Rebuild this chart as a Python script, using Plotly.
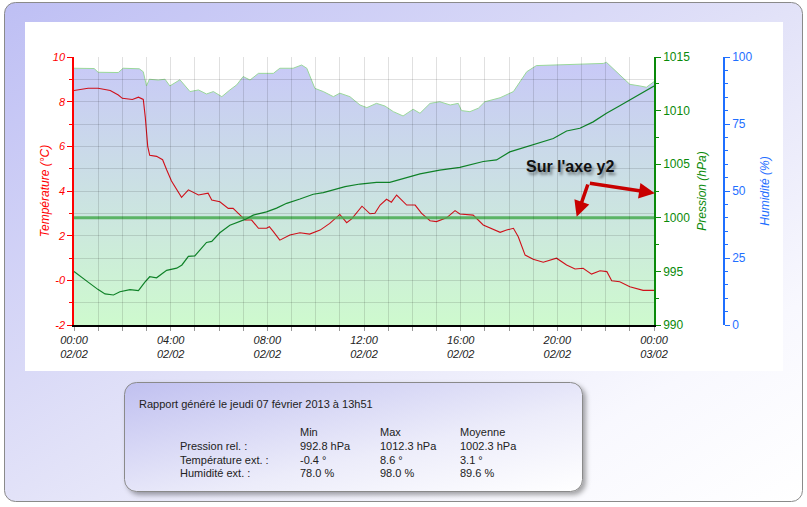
import base64
import pandas as pd
import plotly.graph_objects as go

# ---------------- data ----------------
DAY = "2013-02-02"

temp_time = ["00:00", "00:20", "00:35", "01:00", "01:20", "01:30", "01:50", "02:00", "02:25", "02:40",
             "02:52", "02:57", "03:03", "03:08", "03:25", "03:40", "03:50", "04:02", "04:27", "04:44",
             "05:09", "05:33", "05:42", "06:02", "06:23", "06:35", "06:48", "07:05", "07:21", "07:38",
             "07:58", "08:05", "08:15", "08:31", "08:56", "09:21", "09:45", "10:11", "10:35", "11:00",
             "11:17", "11:30", "11:55", "12:15", "12:27", "12:40", "12:56", "13:08", "13:21", "13:37",
             "13:46", "14:07", "14:23", "14:44", "15:00", "15:25", "15:46", "15:58", "16:31", "16:56",
             "17:38", "17:54", "18:11", "18:23", "18:40", "19:00", "19:25", "19:58", "20:23", "20:44",
             "21:04", "21:25", "21:46", "22:03", "22:15", "22:35", "23:00", "23:33", "24:00"]
temp_vals = [8.5, 8.55, 8.6, 8.6, 8.55, 8.5, 8.3, 8.15, 8.1, 8.2,
             8.1, 7.3, 6.0, 5.6, 5.55, 5.4, 4.95, 4.45, 3.72, 4.05,
             3.82, 3.9, 3.6, 3.52, 3.22, 3.22, 3.0, 2.7, 2.7, 2.33,
             2.33, 2.4, 2.18, 1.8, 2.03, 2.13, 2.07, 2.25, 2.55, 2.95,
             2.58, 2.76, 3.32, 2.98, 3.0, 3.37, 3.63, 3.5, 3.82, 3.52,
             3.37, 3.37, 3.0, 2.67, 2.63, 2.8, 3.12, 2.97, 2.92, 2.48,
             2.15, 2.25, 2.33, 1.95, 1.13, 0.94, 0.81, 0.99, 0.69, 0.51,
             0.54, 0.28, 0.43, 0.39, -0.02, -0.06, -0.29, -0.45, -0.45]

pres_time = ["00:00", "00:15", "00:35", "01:00", "01:17", "01:38", "01:54", "02:19", "02:40", "02:56",
             "03:08", "03:25", "03:50", "04:15", "04:28", "04:44", "05:00", "05:13", "05:29", "05:42",
             "06:02", "06:27", "06:44", "07:05", "07:25", "07:58", "08:23", "08:48", "09:21", "09:54",
             "10:19", "10:44", "11:13", "11:50", "12:31", "13:04", "13:29", "14:19", "15:08", "15:58",
             "16:56", "17:29", "18:02", "19:00", "19:50", "20:23", "20:56", "21:29", "22:02", "22:35",
             "23:08", "23:41", "24:00"]
pres_vals = [995.0, 994.6, 994.0, 993.3, 992.9, 992.8, 993.1, 993.3, 993.2, 994.0,
             994.5, 994.4, 995.1, 995.3, 995.6, 996.4, 996.45, 997.0, 997.7, 997.8,
             998.6, 999.3, 999.55, 999.85, 1000.25, 1000.55, 1000.9, 1001.35, 1001.75, 1002.2,
             1002.35, 1002.6, 1002.9, 1003.15, 1003.3, 1003.3, 1003.55, 1004.1, 1004.45, 1004.7,
             1005.25, 1005.4, 1006.15, 1006.85, 1007.4, 1008.1, 1008.35, 1008.95, 1009.75, 1010.45,
             1011.15, 1011.9, 1012.3]

hum_time = ["00:00", "00:50", "01:00", "01:50", "02:02", "02:42", "02:52", "03:00", "03:07", "03:29",
            "03:46", "03:58", "04:23", "04:48", "05:09", "05:29", "05:46", "06:07", "06:27", "06:44",
            "07:00", "07:17", "07:38", "08:15", "08:31", "09:04", "09:25", "09:38", "09:58", "10:19",
            "10:44", "11:00", "11:25", "11:50", "12:07", "12:31", "12:52", "13:13", "13:37", "14:02",
            "14:19", "14:44", "15:08", "15:34", "15:54", "16:02", "16:23", "16:44", "17:00", "17:38",
            "18:11", "18:27", "18:44", "19:08", "20:00", "21:54", "22:02", "22:35", "23:00", "23:25",
            "23:41", "24:00"]
hum_vals = [95.8, 95.7, 94.3, 94.2, 95.8, 95.6, 94.5, 89.2, 91.7, 91.4,
            91.7, 89.2, 91.5, 87.1, 87.7, 86.2, 87.1, 85.2, 87.7, 89.6,
            92.7, 91.4, 93.9, 93.9, 95.8, 95.8, 97.0, 95.8, 88.3, 87.1,
            85.2, 86.5, 85.2, 82.1, 81.1, 82.7, 81.7, 79.6, 78.0, 80.5,
            79.0, 82.7, 83.3, 82.1, 82.7, 80.0, 79.6, 80.9, 83.3, 84.8,
            87.1, 90.8, 94.5, 96.8, 97.0, 97.6, 98.0, 93.3, 89.8, 89.2,
            88.7, 90.8]

PRESSURE_REF = 1000

temp_ticks = [-2, 0, 2, 4, 6, 8, 10]
temp_ticktext = ["-2", "-0", "2", "4", "6", "8", "10"]

x_start, x_end = "00:00", "24:00"

report_title = "Rapport généré le jeudi 07 février 2013 à 13h51"
stat_headers = ["Min", "Max", "Moyenne"]
stat_labels = ["Pression rel. :", "Température ext. :", "Humidité ext. :"]
stat_units = ["hPa", "°", "%"]
stat_min = [992.8, -0.4, 78.0]
stat_max = [1012.3, 8.6, 98.0]
stat_mean = [1002.3, 3.1, 89.6]


def to_dt(hhmm):
    h, m = (int(v) for v in hhmm.split(":"))
    return pd.Timestamp(DAY) + pd.Timedelta(hours=h, minutes=m)


# ---------------- geometry ----------------
W, H = 807, 507
L, R, T, B = 74, 60, 57, 182
PW, PH = W - L - R, H - T - B
XD = 580 / PW
HUM_POS = (724 - L) / PW


def px(xp):
    return (xp - L) / PW


def py(yp):
    return 1 - (yp - T) / PH


FONT = "Arial, Liberation Sans, sans-serif"
RED = "#ff0000"
GREEN = "#0a8a0a"
BLUE = "#1f6fff"
GRID = "rgba(0,0,0,0.12)"

fig = go.Figure()

# humidity area (main y axis)
fig.add_trace(go.Scatter(
    x=[to_dt(t) for t in hum_time], y=hum_vals, mode="lines",
    line=dict(color="#9ad89a", width=1), fill="tozeroy",
    fillgradient=dict(type="vertical", start=0, stop=100,
                      colorscale=[[0, "rgb(206,250,206)"], [1, "rgb(200,200,248)"]]),
    xaxis="x", yaxis="y", hoverinfo="skip"))

# temperature (y2)
fig.add_trace(go.Scatter(
    x=[to_dt(t) for t in temp_time], y=temp_vals, mode="lines",
    line=dict(color="#d0101a", width=1.1), xaxis="x", yaxis="y2", hoverinfo="skip"))

# reference line on pressure axis (y3)
fig.add_trace(go.Scatter(
    x=[to_dt(x_start), to_dt(x_end)], y=[PRESSURE_REF, PRESSURE_REF], mode="lines",
    line=dict(color="rgba(70,170,80,0.85)", width=3), xaxis="x", yaxis="y3", hoverinfo="skip"))

# pressure (y3)
fig.add_trace(go.Scatter(
    x=[to_dt(t) for t in pres_time], y=pres_vals, mode="lines",
    line=dict(color="#0f8228", width=1.2), xaxis="x", yaxis="y3", hoverinfo="skip"))

# empty trace for the grid overlay subplot
fig.add_trace(go.Scatter(x=[], y=[], xaxis="x2", yaxis="y4", hoverinfo="skip"))

xr = [to_dt(x_start), to_dt(x_end)]

fig.update_layout(
    width=W, height=H,
    margin=dict(l=L, r=R, t=T, b=B),
    paper_bgcolor="white", plot_bgcolor="rgba(0,0,0,0)",
    showlegend=False, hovermode=False,
    font=dict(family=FONT, size=11, color="#222"),
    xaxis=dict(domain=[0, XD], type="date", range=xr, anchor="y",
               tick0=to_dt(x_start), dtick=4 * 3600000, tickformat="%H:%M<br>%d/%m",
               ticks="outside", ticklen=4, tickcolor="#999", showgrid=False, zeroline=False,
               showline=True, linecolor="#000", linewidth=1.5,
               tickfont=dict(family=FONT, size=11, color="#222", style="italic"),
               minor=dict(dtick=3600000, ticks="outside", ticklen=4, tickcolor="#999", showgrid=False)),
    yaxis=dict(range=[0, 100], anchor="free", position=HUM_POS, side="right",
               dtick=25, ticks="outside", ticklen=5, tickcolor=BLUE,
               showline=True, linecolor=BLUE, linewidth=1.5, showgrid=False, zeroline=False,
               tickfont=dict(family=FONT, size=12, color=BLUE),
               title=dict(text="Humidité (%)", font=dict(family=FONT, size=12, color=BLUE, style="italic"),
                          standoff=8),
               minor=dict(dtick=5, ticks="outside", ticklen=3, tickcolor=BLUE, showgrid=False)),
    yaxis2=dict(range=[-2, 10], overlaying="y", anchor="x", side="left",
                tickmode="array", tickvals=temp_ticks, ticktext=temp_ticktext,
                ticks="outside", ticklen=5, tickcolor=RED,
                showline=True, linecolor=RED, linewidth=1.5, showgrid=False, zeroline=False,
                tickfont=dict(family=FONT, size=11, color=RED, style="italic"),
                title=dict(text="Température (°C)", font=dict(family=FONT, size=12, color=RED, style="italic"),
                           standoff=1),
                minor=dict(tickmode="linear", tick0=-2, dtick=1, ticks="outside", ticklen=3,
                           tickcolor=RED, showgrid=False)),
    yaxis3=dict(range=[990, 1015], overlaying="y", anchor="x", side="right",
                dtick=5, ticks="outside", ticklen=5, tickcolor=GREEN,
                showline=True, linecolor=GREEN, linewidth=1.5, showgrid=False, zeroline=False,
                tickfont=dict(family=FONT, size=12, color=GREEN),
                title=dict(text="Pression (hPa)", font=dict(family=FONT, size=12, color=GREEN, style="italic"),
                           standoff=8),
                minor=dict(dtick=2.5, ticks="outside", ticklen=3, tickcolor=GREEN, showgrid=False)),
    xaxis2=dict(domain=[0, XD], type="date", range=xr, anchor="y4",
                tick0=to_dt(x_start), dtick=3600000, showgrid=True, gridcolor=GRID, gridwidth=1,
                showticklabels=False, ticks="", showline=False, zeroline=False),
    yaxis4=dict(domain=[0, 1], range=[-2, 10], anchor="x2", dtick=1,
                showgrid=True, gridcolor=GRID, gridwidth=1,
                showticklabels=False, ticks="", showline=False, zeroline=False),
)

# ---------------- annotations ----------------
ann = []
ann.append(dict(text="Sur l'axe y2", x=to_dt("20:31"), y=1004.8, xref="x", yref="y3",
                showarrow=False,
                font=dict(family=FONT, size=16, color="#111", weight="bold",
                          shadow="2px 3px 3px rgba(0,0,0,0.45)")))
tail_x, tail_y = to_dt("21:17"), 1003.25
for hx, hy in [(to_dt("24:02"), 1002.3), (to_dt("20:48"), 1000.1)]:
    ann.append(dict(text="", x=hx, y=hy, xref="x", yref="y3",
                    ax=tail_x, ay=tail_y, axref="x", ayref="y3",
                    showarrow=True, arrowhead=2, arrowsize=0.9, arrowwidth=3.5,
                    arrowcolor="#c80000", standoff=0, startstandoff=0))

TF = dict(family=FONT, size=11, color="#222")
ann.append(dict(text=report_title, x=px(137), y=py(404), xref="paper", yref="paper",
                xanchor="left", yanchor="middle", showarrow=False, font=TF))
col_x = [298, 378, 458]
for cx, hd in zip(col_x, stat_headers):
    ann.append(dict(text=hd, x=px(cx), y=py(431.5), xref="paper", yref="paper",
                    xanchor="left", yanchor="middle", showarrow=False, font=TF))
row_y = [445.5, 459.5, 473]
for i, ry in enumerate(row_y):
    ann.append(dict(text=stat_labels[i], x=px(178), y=py(ry), xref="paper", yref="paper",
                    xanchor="left", yanchor="middle", showarrow=False, font=TF))
    for cx, v in zip(col_x, [stat_min[i], stat_max[i], stat_mean[i]]):
        ann.append(dict(text=f"{v:.1f} {stat_units[i]}", x=px(cx), y=py(ry), xref="paper", yref="paper",
                        xanchor="left", yanchor="middle", showarrow=False, font=TF))
fig.update_layout(annotations=ann)

# ---------------- decorative background ----------------
svg = """<svg xmlns='http://www.w3.org/2000/svg' width='807' height='507' viewBox='0 0 807 507'>
<defs>
<linearGradient id='g1' x1='0' y1='0' x2='1' y2='1'>
<stop offset='0' stop-color='#bebff4'/><stop offset='0.5' stop-color='#e2e2f8'/>
<stop offset='0.8' stop-color='#f8f8fe'/><stop offset='1' stop-color='#ffffff'/></linearGradient>
<linearGradient id='g2' x1='0' y1='0' x2='1' y2='1'>
<stop offset='0' stop-color='#c0c0f0'/><stop offset='0.6' stop-color='#ececfa'/><stop offset='1' stop-color='#ffffff'/></linearGradient>
<filter id='sh' x='-10%' y='-20%' width='130%' height='150%'>
<feDropShadow dx='3' dy='3' stdDeviation='2.5' flood-color='#000' flood-opacity='0.35'/></filter>
</defs>
<rect x='4.5' y='2.5' width='798' height='499' rx='11' fill='url(#g1)' stroke='#8a8a8a'/>
<rect x='25' y='22' width='758' height='349' fill='#ffffff'/>
<rect x='124.5' y='382.5' width='458' height='109' rx='12' fill='url(#g2)' stroke='#8a8a8a' filter='url(#sh)'/>
</svg>"""
uri = "data:image/svg+xml;base64," + base64.b64encode(svg.encode("utf-8")).decode("ascii")
fig.add_layout_image(dict(source=uri, xref="paper", yref="paper",
                          x=-L / PW, y=1 + T / PH, sizex=W / PW, sizey=H / PH,
                          xanchor="left", yanchor="top", sizing="stretch", layer="below"))

fig.write_html("out.html", config={"displayModeBar": False},
               post_script="document.body.style.margin='0';document.body.style.overflow='hidden';")
